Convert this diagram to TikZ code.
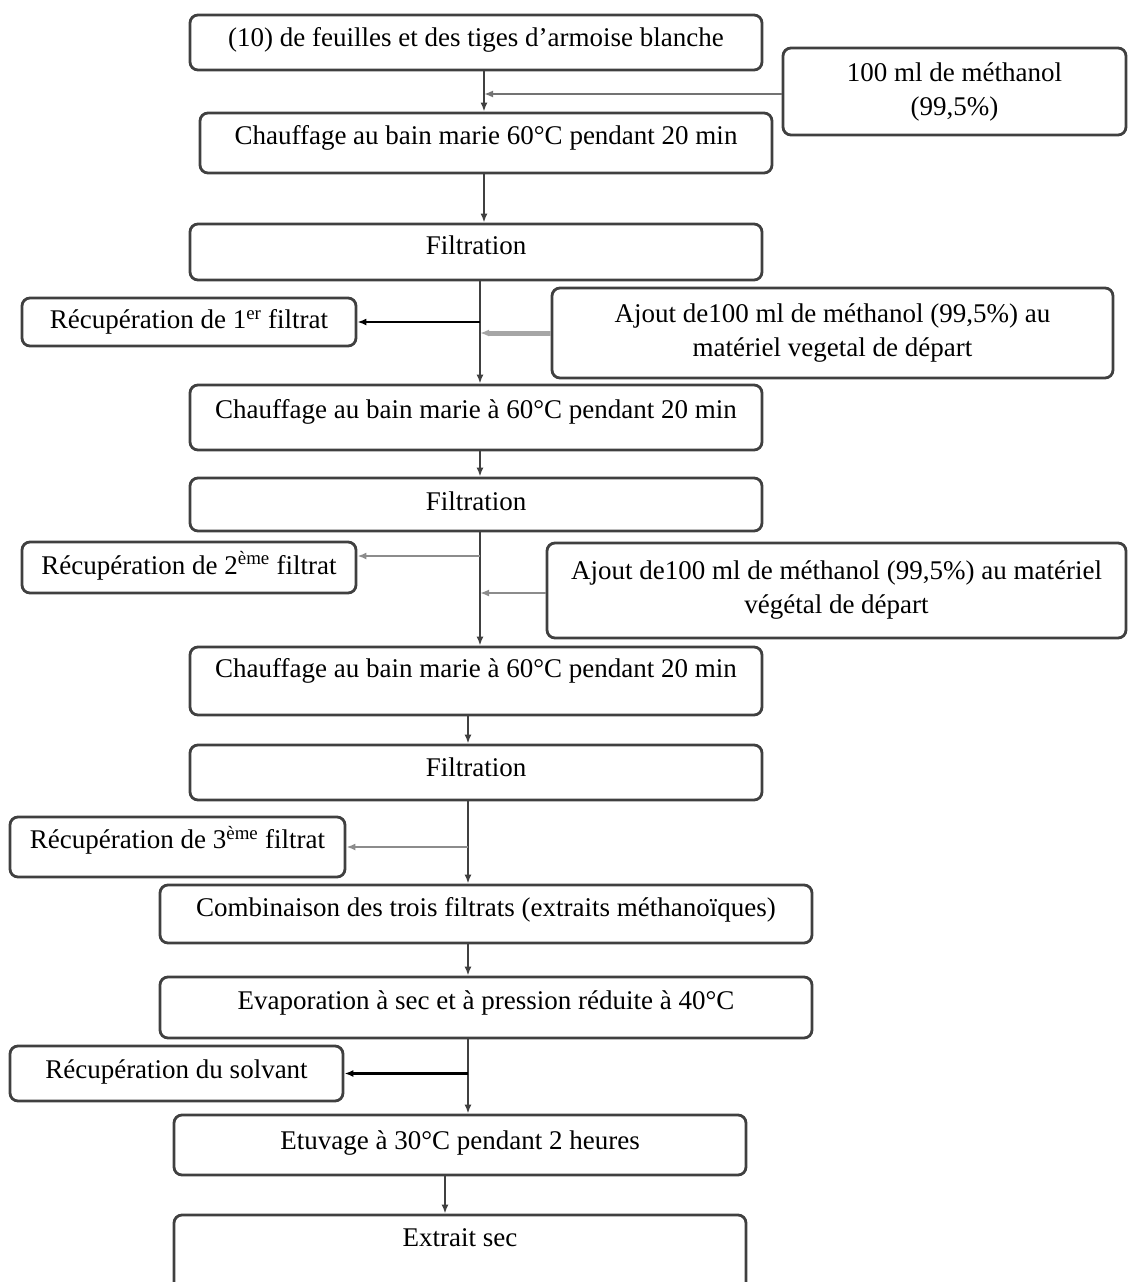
\documentclass[tikz,border=0pt]{standalone}
\usepackage{fontspec}
\setmainfont{Liberation Serif}
\usetikzlibrary{arrows.meta,positioning}

\begin{document}
\begin{tikzpicture}[x=1pt,y=-1pt,every node/.style={font=\fontsize{27}{34}\selectfont},
   bx/.style={draw=black!75,line width=2.8pt,rounded corners=8pt,inner sep=2pt,align=center},
   one/.style={text height=19pt,text depth=#1},one/.default=6pt,
   ar/.style={-{Latex[length=9pt,width=7pt]},line width=2.2pt,draw=black!75},
   ad/.style={ar,draw=black!45}]
  \useasboundingbox (0,0) rectangle (1128,1282);
  \node[bx,one=11pt,minimum width=572,minimum height=55] (b1) at (476,42.5)
    {(10) de feuilles et des tiges d'armoise blanche};
  \node[bx,minimum width=343,minimum height=87] (meth) at (954.5,91.5)
    {100 ml de méthanol\\(99,5\%)};
  \node[bx,one=16pt,minimum width=572,minimum height=60] (ch1) at (486,143)
    {Chauffage au bain marie 60°C pendant 20 min};
  \node[bx,one=14pt,minimum width=572,minimum height=56] (fi1) at (476,252) {Filtration};
  \node[bx,one,minimum width=334,minimum height=48] (re1) at (189,322)
    {Récupération de 1\textsuperscript{er} filtrat};
  \node[bx,minimum width=561,minimum height=90] (aj1) at (832.5,333)
    {Ajout de100 ml de méthanol (99,5\%) au\\matériel vegetal de départ};
  \node[bx,one=17pt,minimum width=572,minimum height=65] (ch2) at (476,417.5)
    {Chauffage au bain marie à 60°C pendant 20 min};
  \node[bx,one=7pt,minimum width=572,minimum height=53] (fi2) at (476,504.5) {Filtration};
  \node[bx,one,minimum width=334,minimum height=51] (re2) at (189,567.5)
    {Récupération de 2\textsuperscript{ème} filtrat};
  \node[bx,minimum width=579,minimum height=95] (aj2) at (836.5,590.5)
    {Ajout de100 ml de méthanol (99,5\%) au matériel\\végétal de départ};
  \node[bx,one=26pt,minimum width=572,minimum height=68] (ch3) at (476,681)
    {Chauffage au bain marie à 60°C pendant 20 min};
  \node[bx,one=11pt,minimum width=572,minimum height=55] (fi3) at (476,772.5) {Filtration};
  \node[bx,one=16pt,minimum width=335,minimum height=60] (re3) at (177.5,847)
    {Récupération de 3\textsuperscript{ème} filtrat};
  \node[bx,one=14pt,minimum width=652,minimum height=58] (co) at (486,914)
    {Combinaison des trois filtrats (extraits méthanoïques)};
  \node[bx,one=15pt,minimum width=652,minimum height=61] (ev) at (486,1007.5)
    {Evaporation à sec et à pression réduite à 40°C};
  \node[bx,one=9pt,minimum width=333,minimum height=55] (rs) at (176.5,1073.5)
    {Récupération du solvant};
  \node[bx,one=10pt,minimum width=572,minimum height=60] (et) at (460,1145)
    {Etuvage à 30°C pendant 2 heures};
  \node[bx,one=36pt,minimum width=572,minimum height=80] (ex) at (460,1255) {Extrait sec};
  \coordinate (c1) at (484,0);
  \coordinate (c2) at (480,0);
  \coordinate (c3) at (468,0);
  \coordinate (c4) at (445,0);
  \coordinate (j2) at (480,556);
  \draw[ar] (b1.south -| c1) -- (ch1.north -| c1);
  \draw[ad,draw=black!55] (meth.west |- 0,94) -- (c1 |- 0,94);
  \draw[ar] (ch1.south -| c1) -- (fi1.north -| c1);
  \draw[ar] (fi1.south -| c2) -- (ch2.north -| c2);
  \draw[ar,draw=black] (re1.east -| c2) -- (re1.east);
  \draw[ad,line width=5pt,draw=black!35] (aj1.west) -- (aj1.west -| c2);
  \draw[ar] (ch2.south -| c2) -- (fi2.north -| c2);
  \draw[ar] (fi2.south -| c2) -- (ch3.north -| c2);
  \draw[ad] (j2) -- (re2.east |- j2);
  \draw[ad] (aj2.west |- 0,593) -- (c2 |- 0,593);
  \draw[ar] (ch3.south -| c3) -- (fi3.north -| c3);
  \draw[ar] (fi3.south -| c3) -- (co.north -| c3);
  \draw[ad] (re3.east -| c3) -- (re3.east);
  \draw[ar] (co.south -| c3) -- (ev.north -| c3);
  \draw[ar] (ev.south -| c3) -- (et.north -| c3);
  \draw[ar,draw=black] (rs.east -| c3) -- (rs.east);
  \draw[ar] (et.south -| c4) -- (ex.north -| c4);
\end{tikzpicture}
\end{document}
